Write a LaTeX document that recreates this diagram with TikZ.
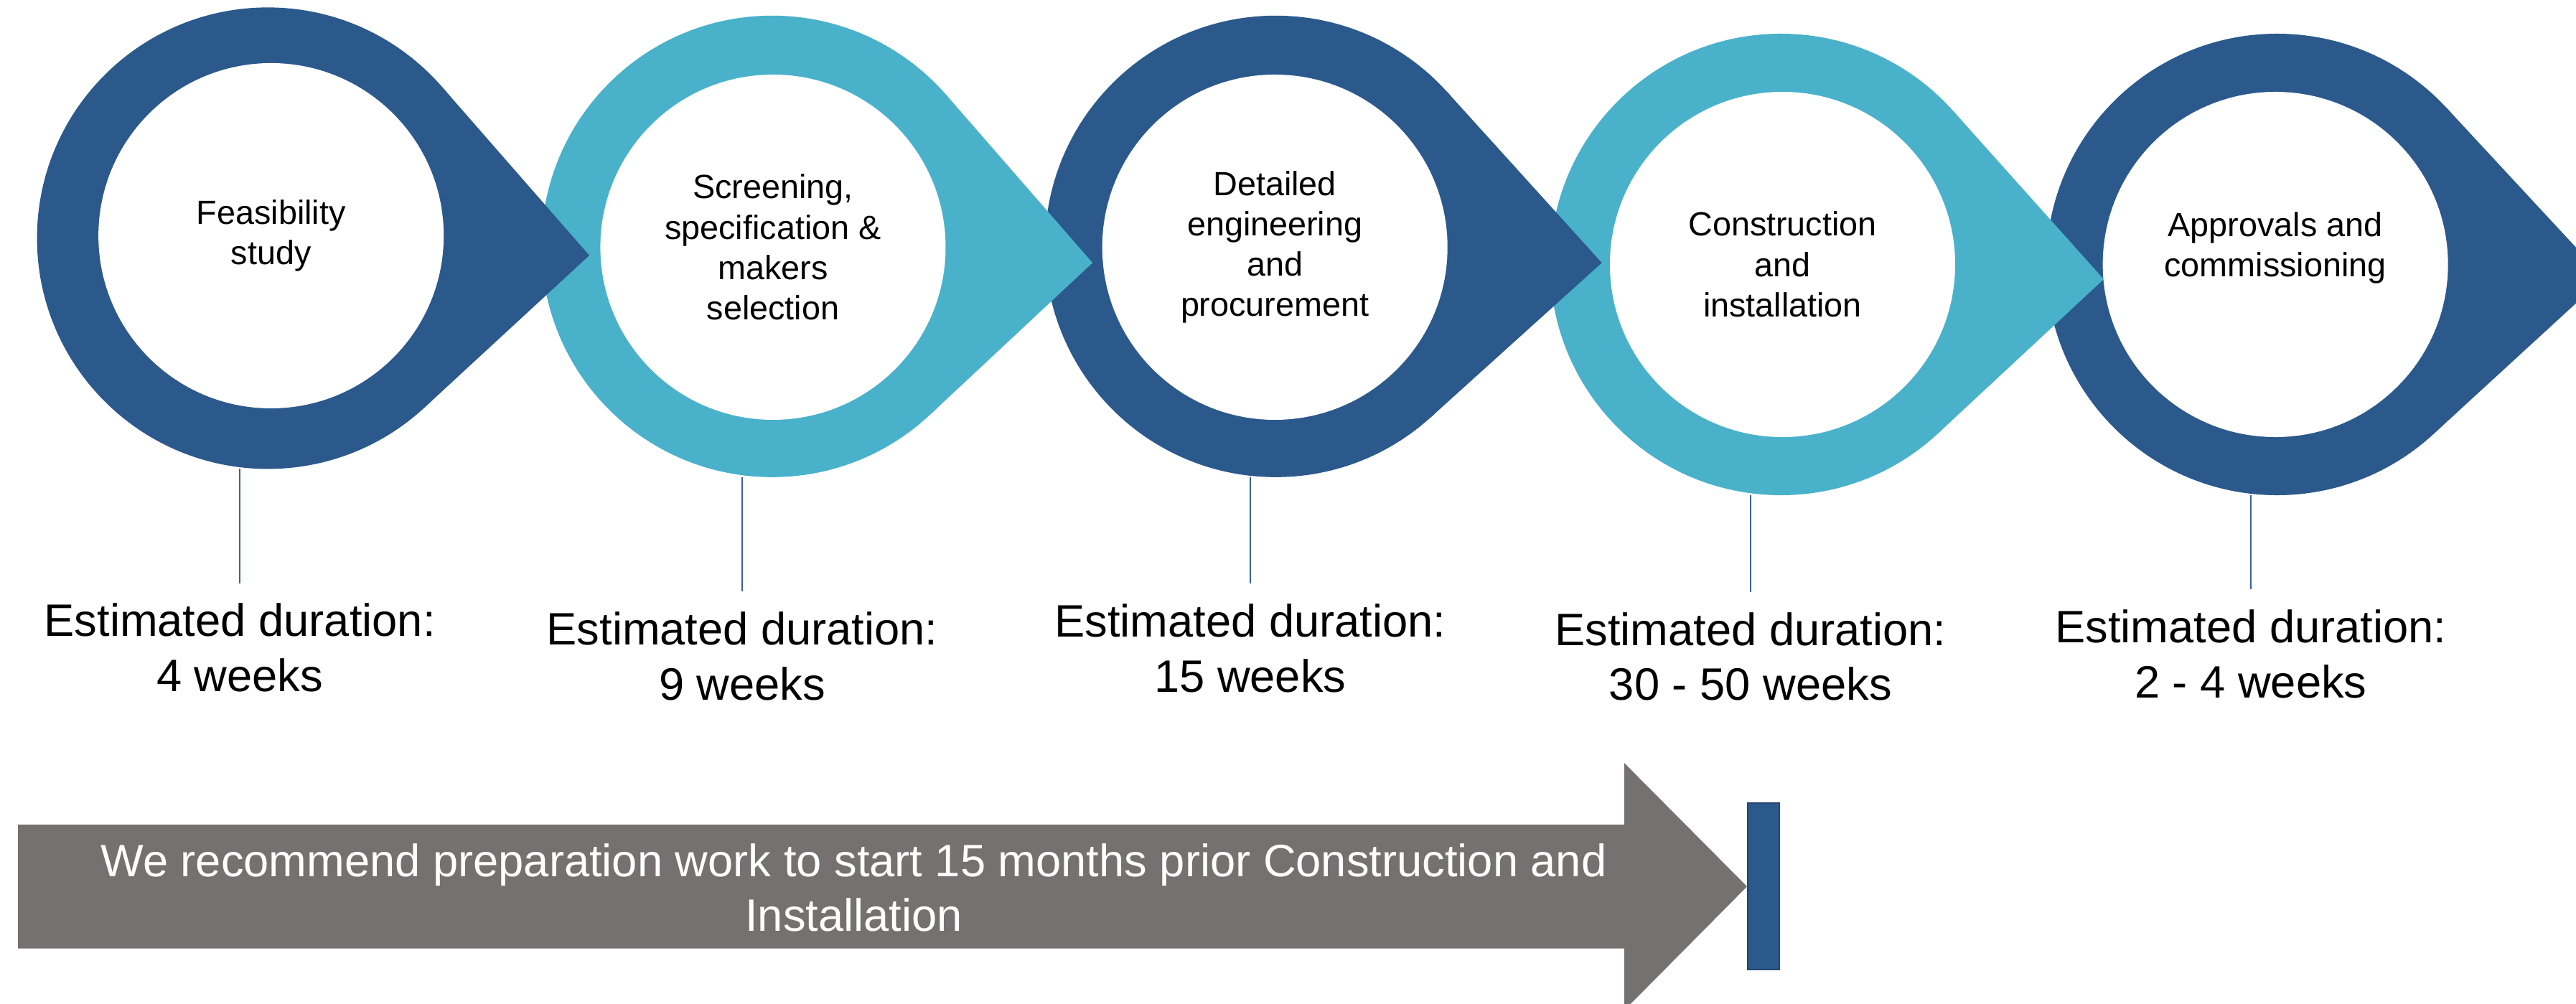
\documentclass[tikz,border=0pt]{standalone}
\usepackage{fontspec}
\setmainfont{Liberation Sans}
\usetikzlibrary{calc}

\definecolor{stagedark}{RGB}{43,89,140}
\definecolor{stagelight}{RGB}{73,178,202}
\definecolor{notegray}{RGB}{118,113,113}
\definecolor{tickblue}{RGB}{58,98,160}

\tikzset{
  ring/.style={circle, minimum size=6.43cm, inner sep=0pt, outer sep=0pt},
  stage/.style={circle, fill=white, minimum size=4.81cm, inner sep=0pt, align=center,
    font=\fontsize{13.3}{16}\selectfont},
  duration/.style={anchor=north, inner sep=0pt, outer sep=0.286cm, align=center,
    font=\fontsize{18}{21.8}\selectfont},
  note/.style={inner sep=0pt, align=center, text=white,
    font=\fontsize{18}{21.6}\selectfont},
  tick/.style={tickblue, line width=0.4pt},
}

\begin{document}
\begin{tikzpicture}[x=0.02289cm, y=-0.02289cm]
\useasboundingbox (0,0) rectangle (1568,611);
\clip (0,0) rectangle (1568,611);

\coordinate (tip1) at (358.7,155.5);
\coordinate (tip2) at (665,160);
\coordinate (tip3) at (975,160);
\coordinate (tip4) at (1280.5,170);
\coordinate (tip5) at (1585,169);

% drops, last one first so that each tip lies over the next ring
\node[ring, fill=stagedark] (ring5) at (1386,161) {};
\fill[stagedark] (tip5) -- (tangent cs:node=ring5,point={(tip5)},solution=1) -- (tangent cs:node=ring5,point={(tip5)},solution=2) -- cycle;

\node[ring, fill=stagelight] (ring4) at (1084,161) {};
\fill[stagelight] (tip4) -- (tangent cs:node=ring4,point={(tip4)},solution=1) -- (tangent cs:node=ring4,point={(tip4)},solution=2) -- cycle;

\node[ring, fill=stagedark] (ring3) at (776.5,150) {};
\fill[stagedark] (tip3) -- (tangent cs:node=ring3,point={(tip3)},solution=1) -- (tangent cs:node=ring3,point={(tip3)},solution=2) -- cycle;

\node[ring, fill=stagelight] (ring2) at (470,150) {};
\fill[stagelight] (tip2) -- (tangent cs:node=ring2,point={(tip2)},solution=1) -- (tangent cs:node=ring2,point={(tip2)},solution=2) -- cycle;

\node[ring, fill=stagedark] (ring1) at (163,145) {};
\fill[stagedark] (tip1) -- (tangent cs:node=ring1,point={(tip1)},solution=1) -- (tangent cs:node=ring1,point={(tip1)},solution=2) -- cycle;

\node[stage] (stage1) at (165,143.5) {Feasibility\\study};
\node[stage] (stage2) at (470.5,150.5) {Screening,\\specification \&\\makers\\selection};
\node[stage] (stage3) at (776,150.5) {Detailed\\engineering\\and\\procurement};
\node[stage] (stage4) at (1085,161) {Construction\\and\\installation};
\node[stage] (stage5) at (1385,161) {Approvals and\\commissioning\\\mbox{}};

\node[duration] (dur1) at (146,355) {Estimated duration:\\4 weeks};
\node[duration] (dur2) at (451.8,360) {Estimated duration:\\9 weeks};
\node[duration] (dur3) at (761,355.4) {Estimated duration:\\15 weeks};
\node[duration] (dur4) at (1065.5,360.4) {Estimated duration:\\30 - 50 weeks};
\node[duration] (dur5) at (1370,358.7) {Estimated duration:\\2 - 4 weeks};

\draw[tick] (dur1.north) -- (dur1.north |- ring1.south);
\draw[tick] (dur2.north) -- (dur2.north |- ring2.south);
\draw[tick] (dur3.north) -- (dur3.north |- ring3.south);
\draw[tick] (dur4.north) -- (dur4.north |- ring4.south);
\draw[tick] (dur5.north) -- (dur5.north |- ring5.south);

% lead time arrow and end mark
\fill[notegray] (11,502) -- (988.7,502) -- (988.7,464.5) -- (1063.4,539.7) -- (988.7,615) -- (988.7,577.4) -- (11,577.4) -- cycle;
\node[note] (prep) at (519.7,540.3) {We recommend preparation work to start 15 months prior Construction and\\Installation};
\draw[stagedark!80!black, fill=stagedark, line width=0.6pt] (1063.9,489) rectangle (1083,590.2);
\end{tikzpicture}
\end{document}
